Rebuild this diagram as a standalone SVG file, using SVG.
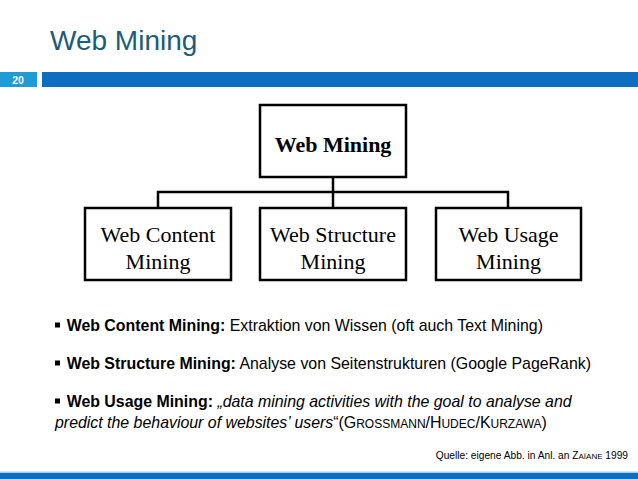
<svg xmlns="http://www.w3.org/2000/svg" width="638" height="479" viewBox="0 0 638 479">
<style>
.box{fill:#fff;stroke:#000;stroke-width:2.5}
.con{fill:none;stroke:#000;stroke-width:2.5}
.tm{font-family:"Liberation Serif","Times New Roman",serif;font-size:22px;fill:#000;text-anchor:middle}
.tmb{font-weight:bold}
.body{font-family:"Liberation Sans",Arial,sans-serif;font-size:15.9px;fill:#000}
.b{font-weight:bold}
.it{font-style:italic}
.sc{font-size:12px}
.src{font-family:"Liberation Sans",Arial,sans-serif;font-size:10.2px;fill:#000;text-anchor:end}
.srcsc{font-size:8px}
</style>
<rect width="638" height="479" fill="#fff"/>
<g id="header">
<text x="50" y="50" font-family="'Liberation Sans',Arial,sans-serif" font-size="28" fill="#1d5c78">Web Mining</text>
<rect x="0" y="72" width="37" height="15" fill="#1f9bd7"/>
<rect x="42" y="72" width="596" height="15" fill="#0f6dc1"/>
<text x="18" y="84" font-family="'Liberation Sans',Arial,sans-serif" font-size="10.5" font-weight="bold" fill="#fff" text-anchor="middle">20</text>
</g>
<g id="connectors">
<path class="con" d="M333 177V192M158 208V192H508V208M333 192V208"/>
</g>
<g id="node-web-mining">
<rect class="box" x="260" y="105" width="146" height="72"/>
<text class="tm tmb" x="333" y="152">Web Mining</text>
</g>
<g id="node-content">
<rect class="box" x="85" y="208" width="146" height="72"/>
<text class="tm" x="158" y="242">Web Content</text>
<text class="tm" x="158" y="269">Mining</text>
</g>
<g id="node-structure">
<rect class="box" x="260" y="208" width="146" height="72"/>
<text class="tm" x="333" y="242">Web Structure</text>
<text class="tm" x="333" y="269">Mining</text>
</g>
<g id="node-usage">
<rect class="box" x="436" y="208" width="145" height="72"/>
<text class="tm" x="508.5" y="242">Web Usage</text>
<text class="tm" x="508.5" y="269">Mining</text>
</g>
<g id="bullets">
<rect x="55" y="322.5" width="5" height="5" fill="#000"/>
<text class="body" x="66.7" y="331"><tspan class="b">Web Content Mining:</tspan> Extraktion von Wissen (oft auch Text Mining)</text>
<rect x="55" y="360.5" width="5" height="5" fill="#000"/>
<text class="body" x="66.7" y="369"><tspan class="b">Web Structure Mining:</tspan> Analyse von Seitenstrukturen (Google PageRank)</text>
<rect x="55" y="398.5" width="5" height="5" fill="#000"/>
<text class="body" x="66.7" y="407"><tspan class="b">Web Usage Mining:</tspan> <tspan class="it">„data mining activities with the goal to analyse and</tspan></text>
<text class="body" x="55" y="428"><tspan class="it">predict the behaviour of websites’ users</tspan>“(G<tspan class="sc">ROSSMANN</tspan>/H<tspan class="sc">UDEC</tspan>/K<tspan class="sc">URZAWA</tspan>)</text>
</g>
<g id="footer">
<text class="src" x="628" y="459">Quelle: eigene Abb. in Anl. an Z<tspan class="srcsc">AÏANE</tspan> 1999</text>
<rect x="0" y="471.5" width="638" height="1.5" fill="#9fd0f0"/>
<rect x="0" y="473" width="638" height="6" fill="#0f6dc1"/>
</g>
</svg>
